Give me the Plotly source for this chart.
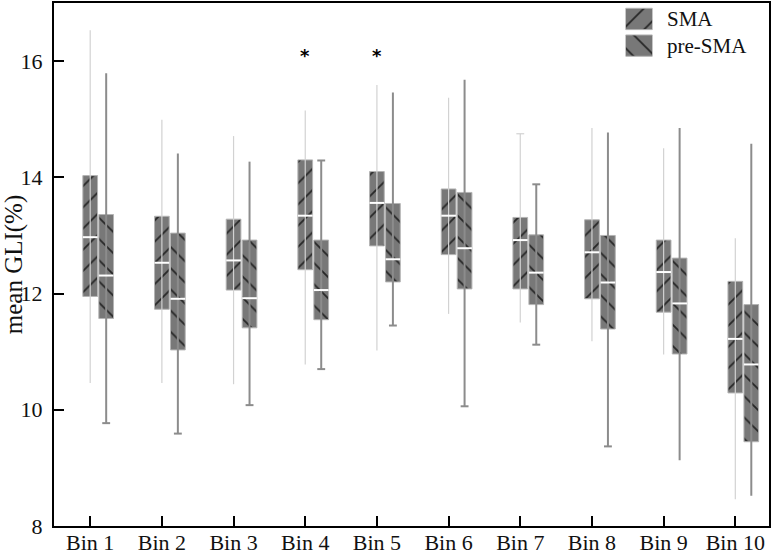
import plotly.graph_objects as go

# ---------------- data ----------------
bins = ["Bin 1", "Bin 2", "Bin 3", "Bin 4", "Bin 5", "Bin 6", "Bin 7", "Bin 8", "Bin 9", "Bin 10"]

sma_low  = [10.46, 10.46, 10.44, 10.78, 11.02, 11.65, 11.50, 11.18, 10.95, 8.46]
sma_q1   = [11.95, 11.73, 12.06, 12.41, 12.82, 12.67, 12.08, 11.91, 11.68, 10.29]
sma_med  = [12.97, 12.53, 12.57, 13.34, 13.56, 13.34, 12.92, 12.71, 12.37, 11.22]
sma_q3   = [14.03, 13.33, 13.28, 14.30, 14.10, 13.80, 13.31, 13.27, 12.92, 12.21]
sma_high = [16.53, 14.99, 14.71, 15.15, 15.59, 15.37, 14.75, 14.85, 14.50, 12.95]

pre_low  = [9.77, 9.59, 10.08, 10.70, 11.45, 10.06, 11.12, 9.37, 9.13, 8.52]
pre_q1   = [11.57, 11.03, 11.41, 11.55, 12.20, 12.08, 11.81, 11.39, 10.96, 9.45]
pre_med  = [12.31, 11.91, 11.92, 12.06, 12.59, 12.78, 12.36, 12.19, 11.83, 10.78]
pre_q3   = [13.36, 13.04, 12.92, 12.92, 13.55, 13.74, 13.01, 13.00, 12.61, 11.81]
pre_high = [15.79, 14.41, 14.27, 14.29, 15.46, 15.68, 13.88, 14.77, 14.85, 14.58]

# whisker caps seen in the picture
sma_cap_high = [False, False, False, False, False, False, True, False, False, False]
sma_cap_low  = [False] * 10
pre_cap_high = [False, False, False, True, False, False, True, False, False, False]
pre_cap_low  = [True, True, True, True, True, True, True, True, False, False]

series_names = ["SMA", "pre-SMA"]
star_bins = ["Bin 4", "Bin 5"]
star_level = 16.1

y_ticks = [8, 10, 12, 14, 16]

# ---------------- styling ----------------
FONT = "Liberation Serif, Times New Roman, serif"
TXT = "#111111"
BOX_W = 0.205
OFFSETS = [0.0, 0.223]
SHAPES = ["/", "\\"]
FILL = "#787878"
HATCH = "#262626"
EDGE = "#b4b4b4"
WHISK_COLORS = ["#d2d2d2", "#8c8c8c"]
WHISK_WIDTHS = [1.2, 2.0]
CAP_W = 0.11
PAT = dict(fgcolor=HATCH, bgcolor=FILL, size=15, solidity=0.12, fillmode="replace")

stats = [
    (sma_low, sma_q1, sma_med, sma_q3, sma_high, sma_cap_low, sma_cap_high),
    (pre_low, pre_q1, pre_med, pre_q3, pre_high, pre_cap_low, pre_cap_high),
]

pos = list(range(1, len(bins) + 1))

fig = go.Figure()

for s, (lo, q1, md, q3, hi, cl, ch) in enumerate(stats):
    xs = [p + OFFSETS[s] for p in pos]
    # whiskers
    wx, wy = [], []
    for x, a, b in zip(xs, lo, hi):
        wx += [x, x, None]
        wy += [a, b, None]
    for x, a, b, fa, fb in zip(xs, lo, hi, cl, ch):
        if fa:
            wx += [x - CAP_W / 2, x + CAP_W / 2, None]
            wy += [a, a, None]
        if fb:
            wx += [x - CAP_W / 2, x + CAP_W / 2, None]
            wy += [b, b, None]
    fig.add_trace(go.Scatter(x=wx, y=wy, mode="lines", showlegend=False,
                             line=dict(color=WHISK_COLORS[s], width=WHISK_WIDTHS[s]),
                             hoverinfo="skip"))
    # boxes
    fig.add_trace(go.Bar(
        x=xs, y=[b - a for a, b in zip(q1, q3)], base=q1, width=BOX_W,
        name=series_names[s], showlegend=False,
        marker=dict(color=FILL, line=dict(color=EDGE, width=1),
                    pattern=dict(shape=SHAPES[s], **PAT)),
    ))
    # medians
    mx, my = [], []
    for x, m in zip(xs, md):
        mx += [x - BOX_W / 2, x + BOX_W / 2, None]
        my += [m, m, None]
    fig.add_trace(go.Scatter(x=mx, y=my, mode="lines", showlegend=False,
                             line=dict(color="white", width=2), hoverinfo="skip"))

# ---------------- custom legend (large hatched swatches) ----------------
for s, name in enumerate(series_names):
    fig.add_trace(go.Bar(
        x=[0.5], y=[0.8], base=[1 - s + 0.1], width=[1.0], xaxis="x2", yaxis="y2",
        showlegend=False, hoverinfo="skip",
        marker=dict(color=FILL, line=dict(color=EDGE, width=1),
                    pattern=dict(shape=SHAPES[s], **PAT)),
    ))
    fig.add_annotation(x=1.0, y=1 - s + 0.5, xref="x2", yref="y2", text=name,
                       showarrow=False, xanchor="left", xshift=12,
                       font=dict(family=FONT, size=21, color=TXT))

# significance stars
for b in star_bins:
    fig.add_annotation(x=bins.index(b) + 1, y=star_level, text="<b>*</b>", showarrow=False,
                       font=dict(family="DejaVu Sans, sans-serif", size=18, color="black"),
                       yshift=0)

fig.update_layout(
    width=774, height=557,
    margin=dict(l=54, r=5, t=3, b=31),
    paper_bgcolor="white", plot_bgcolor="white",
    barmode="overlay",
    showlegend=False,
    font=dict(family=FONT, size=22, color=TXT),
    xaxis=dict(range=[0.495, 10.47], tickvals=pos, ticktext=bins,
               ticks="inside", ticklen=10, tickwidth=2, tickcolor="black",
               showline=True, linewidth=2, linecolor="black", mirror=True,
               showgrid=False, zeroline=False, automargin=False,
               ticklabelstandoff=-4,
               tickfont=dict(family=FONT, size=22, color=TXT)),
    yaxis=dict(range=[8, 17], tickvals=y_ticks,
               ticks="inside", ticklen=10, tickwidth=2, tickcolor="black",
               showline=True, linewidth=2, linecolor="black", mirror=True,
               showgrid=False, zeroline=False, automargin=False,
               ticklabelstandoff=5,
               tickfont=dict(family=FONT, size=22, color=TXT),
               title=dict(text="mean GLI(%)", standoff=2,
                          font=dict(family=FONT, size=25, color=TXT))),
    xaxis2=dict(domain=[0.7993, 0.8371], range=[0, 1], anchor="y2",
                visible=False, fixedrange=True),
    yaxis2=dict(domain=[0.893, 0.995], range=[0, 2], anchor="x2",
                visible=False, fixedrange=True),
)

fig.write_html(
    "out.html",
    config={"displayModeBar": False},
    post_script="document.body.style.margin='0';document.body.style.overflow='hidden';",
)
